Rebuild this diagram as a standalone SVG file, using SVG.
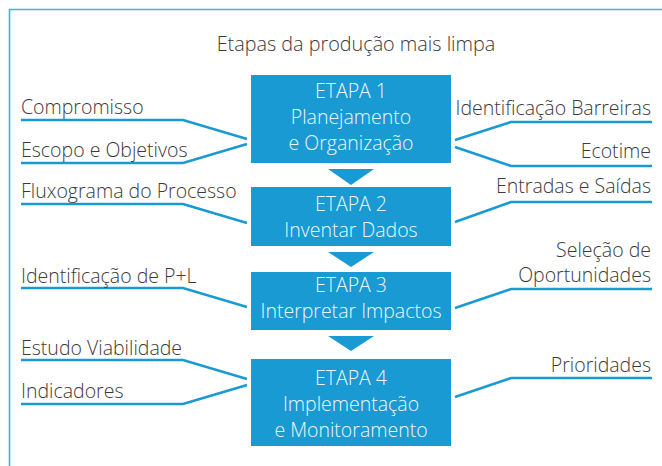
<svg xmlns="http://www.w3.org/2000/svg" width="662" height="466" viewBox="0 0 662 466">
<style>
.frame{fill:none;stroke:#3fb1e3;stroke-width:1.6}
.box{fill:#1a9ad3}
.tri{fill:#1a9ad3}
.bt{font-family:"Open Sans","Liberation Sans",sans-serif;font-weight:300;font-size:19.5px;fill:#eef7fc;text-anchor:middle}
.lb{font-family:"Open Sans","Liberation Sans",sans-serif;font-weight:300;font-size:19.5px;fill:#3a3a3a}
.r{text-anchor:end}
.ln{fill:none;stroke:#1a9ad3;stroke-width:2.6;stroke-linejoin:miter}
.title{font-family:"Open Sans","Liberation Sans",sans-serif;font-weight:300;font-size:19.8px;fill:#3a3a3a;text-anchor:middle}
</style>
<rect width="662" height="466" fill="#ffffff"/>
<path class="frame" d="M9.5,466 V9.5 H662"/>
<text class="title" x="356" y="51">Etapas da produção mais limpa</text>
<g id="connectors">
<polyline class="ln" points="21,120 183,120 247,139"/>
<polyline class="ln" points="21,163 183,163 247,144"/>
<polyline class="ln" points="21,204 183,204 247,223"/>
<polyline class="ln" points="21,288 183,288 247,307"/>
<polyline class="ln" points="21,360 183,360 247,379"/>
<polyline class="ln" points="21,404 183,404 247,385"/>
<polyline class="ln" points="652,122 511,122 455,140"/>
<polyline class="ln" points="652,166 511,166 455,147"/>
<polyline class="ln" points="652,202 511,202 455,222"/>
<polyline class="ln" points="652,289 511,289 455,308"/>
<polyline class="ln" points="652,378 511,378 455,397"/>
<polygon class="tri" points="328,169 374,169 351,185"/>
<polygon class="tri" points="328,252 374,252 351,267"/>
<polygon class="tri" points="328,336 374,336 351,351"/>
</g>
<g id="etapa1">
<rect class="box" x="251" y="75" width="200" height="88"/>
<text class="bt" x="351" y="98">ETAPA 1</text>
<text class="bt" x="351" y="124">Planejamento</text>
<text class="bt" x="351" y="150">e Organização</text>
</g>
<g id="etapa2">
<rect class="box" x="251" y="187" width="200" height="59"/>
<text class="bt" x="351" y="211">ETAPA 2</text>
<text class="bt" x="351" y="237">Inventar Dados</text>
</g>
<g id="etapa3">
<rect class="box" x="251" y="272" width="200" height="58"/>
<text class="bt" x="351" y="292">ETAPA 3</text>
<text class="bt" x="351" y="318">Interpretar Impactos</text>
</g>
<g id="etapa4">
<rect class="box" x="251" y="359" width="200" height="87"/>
<text class="bt" x="351" y="385">ETAPA 4</text>
<text class="bt" x="351" y="411">Implementação</text>
<text class="bt" x="351" y="437">e Monitoramento</text>
</g>
<g id="labels-left">
<text class="lb" x="21" y="114">Compromisso</text>
<text class="lb" x="21" y="157">Escopo e Objetivos</text>
<text class="lb" x="21" y="198">Fluxograma do Processo</text>
<text class="lb" x="21" y="283">Identificação de P+L</text>
<text class="lb" x="21" y="355">Estudo Viabilidade</text>
<text class="lb" x="21" y="398">Indicadores</text>
</g>
<g id="labels-right">
<text class="lb r" x="651" y="115">Identificação Barreiras</text>
<text class="lb r" x="651" y="158">Ecotime</text>
<text class="lb r" x="651" y="193">Entradas e Saídas</text>
<text class="lb r" x="651" y="257">Seleção de</text>
<text class="lb r" x="651" y="282">Oportunidades</text>
<text class="lb r" x="651" y="372">Prioridades</text>
</g>
</svg>
